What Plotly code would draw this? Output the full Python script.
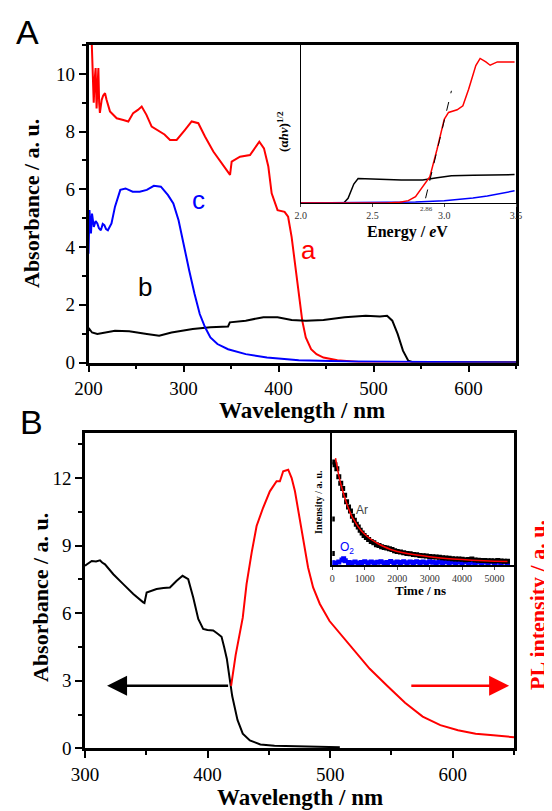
import plotly.graph_objects as go

# ---------------- Panel A main data ----------------
a_wl = [203, 204.5, 205.5, 206.5, 207.5, 208.5, 209.5, 210.4, 211.2, 212, 213.9, 215.5, 217.4, 219, 222.6,
        229.7, 236.6, 241.9, 247, 252, 256, 261, 266.5, 275.3, 280, 285.8, 292.8, 301.6, 308.6, 315.6,
        322.6, 331.4, 340.2, 349, 350.7, 359.5, 370, 375.3, 379.8, 384.7, 389.3, 392.8, 399, 406.4,
        410.1, 413.8, 417.6, 421.3, 425, 428.7, 434.3, 440, 447.3, 462, 484.5, 520, 650]
a_abs = [11.5, 10.0, 9.0, 9.8, 10.2, 8.8, 9.6, 10.2, 9.0, 8.65, 9.1, 9.25, 9.33, 9.1, 8.7,
         8.46, 8.4, 8.35, 8.64, 8.75, 8.87, 8.58, 8.17, 8.0, 7.9, 7.71, 7.71, 8.06, 8.35, 8.29,
         7.83, 7.31, 6.9, 6.5, 6.96, 7.13, 7.19, 7.42, 7.65, 7.42, 6.79, 5.86, 5.28, 5.22,
         5.05, 4.35, 3.31, 2.26, 1.45, 0.87, 0.46, 0.29, 0.17, 0.08, 0.02, 0.0, 0.0]

b_wl = [200, 201, 203.7, 209.3, 227.9, 242.8, 261.4, 274.4, 287.4, 309.7, 328.3, 346.9, 348.8, 365.5,
        384.1, 399, 413.8, 428.7, 447.3, 469.6, 491.9, 506.8, 514.3, 519.8, 525.4, 531, 536.6, 542.1, 650]
b_abs = [1.1, 1.16, 1.04, 0.99, 1.1, 1.08, 0.99, 0.93, 1.04, 1.16, 1.22, 1.25, 1.39, 1.45,
         1.57, 1.57, 1.47, 1.45, 1.47, 1.57, 1.62, 1.59, 1.62, 1.45, 0.99, 0.41, 0.06, 0.0, 0.0]

c_wl = [200, 201, 202.6, 203.7, 205.6, 207.5, 209.3, 211, 213, 215, 216.7, 218.5, 220.4, 224.2, 227.9,
        233.5, 239, 246.5, 253.9, 261.4, 268.8, 276.2, 283.7, 289.3, 294.8, 300.4, 306, 311.6,
        317.1, 322.7, 328.3, 335.7, 346.9, 365.5, 387.8, 421.3, 477, 650]
c_abs = [3.77, 5.28, 4.47, 5.16, 4.7, 4.9, 4.82, 4.65, 4.58, 4.8, 4.76, 4.62, 4.58, 4.82, 5.4,
         5.98, 6.03, 5.92, 5.92, 5.98, 6.12, 6.09, 5.8, 5.51, 4.93, 4.0, 3.19, 2.38,
         1.68, 1.22, 0.87, 0.64, 0.46, 0.29, 0.17, 0.08, 0.035, 0.0]

# ---------------- Panel A inset (Tauc plot) ----------------
ea_red_e = [2.0, 2.6, 2.69, 2.75, 2.8, 2.85, 2.9, 2.95, 3.0, 3.03, 3.09, 3.13, 3.17, 3.22, 3.25, 3.29, 3.32, 3.37, 3.49]
ea_red_y = [0.0, 0.0, 0.005, 0.015, 0.04, 0.1, 0.167, 0.34, 0.53, 0.573, 0.59, 0.615, 0.72, 0.87, 0.915, 0.893, 0.872, 0.893, 0.893]
ea_blk_e = [2.0, 2.3, 2.33, 2.37, 2.4, 2.5, 2.6, 2.7, 2.85, 2.95, 3.05, 3.2, 3.35, 3.49]
ea_blk_y = [0.0, 0.0, 0.03, 0.12, 0.155, 0.15, 0.148, 0.145, 0.145, 0.16, 0.173, 0.175, 0.178, 0.18]
ea_blu_e = [2.0, 2.5, 2.8, 3.0, 3.1, 3.2, 3.3, 3.4, 3.49]
ea_blu_y = [0.0, 0.002, 0.006, 0.015, 0.022, 0.032, 0.045, 0.06, 0.077]
tangent_e = [2.87, 3.05]
tangent_y = [0.03, 0.71]

# ---------------- Panel B main data ----------------
abs_wl = [300, 300.8, 305.5, 309, 312.2, 314, 316.3, 323.1, 331.2, 339.4, 347.5, 348.5, 350.3, 358.4, 364,
          369.3, 374.8, 379.6, 384.2, 388.3, 392.4, 396.4, 399.9, 404.6, 408, 411.4, 413.5, 415.7, 418,
          420.1, 424.4, 428.7, 434.5, 443.1, 454.6, 474.8, 507.9]
abs_val = [8.1, 8.14, 8.32, 8.3, 8.35, 8.25, 8.17, 7.73, 7.29, 6.85, 6.48, 6.45, 6.92, 7.07, 7.12,
           7.14, 7.44, 7.66, 7.51, 6.7, 5.74, 5.3, 5.25, 5.23, 5.1, 4.95, 4.5, 3.98, 3.1,
           2.32, 1.26, 0.65, 0.35, 0.17, 0.11, 0.08, 0.05]

pl_wl = [419.2, 422.9, 428.7, 431.8, 436, 440, 445.3, 450.8, 456.3, 459, 460.5, 461.7, 465.8, 468.6,
         471.3, 474, 476, 478, 482, 486.1, 491.6, 499.5, 506.4, 517.9, 532.3, 546.7, 561.1, 575.5,
         589.9, 604.3, 618.7, 633.1, 648.9, 650]
pl_val = [2.77, 4.14, 5.8, 7.29, 8.7, 9.87, 10.68, 11.41, 11.86, 11.86, 12.1, 12.3, 12.37, 12.0,
          11.41, 10.53, 9.9, 9.4, 8.03, 7.14, 6.41, 5.65, 5.2, 4.44, 3.53, 2.77, 2.02, 1.41,
          1.03, 0.8, 0.65, 0.58, 0.5, 0.49]

# ---------------- Panel B inset (decay) ----------------
ar_t = [0, 0, 30, 80, 140, 200, 260, 320, 380, 440, 500, 560, 620, 680, 740, 800, 860, 920, 980, 1050,
        1120, 1200, 1280, 1360, 1440, 1520, 1600, 1680, 1760, 1840, 1920, 2000, 2100, 2200, 2300, 2400,
        2500, 2600, 2700, 2800, 2900, 3000, 3100, 3200, 3300, 3400, 3500, 3600, 3700, 3800, 3900, 4000,
        4100, 4200, 4300, 4400, 4500, 4600, 4700, 4800, 4900, 5000, 5100, 5200, 5300, 5400]
ar_y = [0.09, 0.35, 0.78, 0.76, 0.73, 0.67, 0.62, 0.58, 0.53, 0.48, 0.44, 0.41, 0.37, 0.34, 0.31, 0.29,
        0.265, 0.245, 0.225, 0.21, 0.195, 0.18, 0.17, 0.155, 0.15, 0.14, 0.135, 0.13, 0.125, 0.12, 0.11,
        0.105, 0.1, 0.095, 0.09, 0.087, 0.082, 0.08, 0.075, 0.072, 0.07, 0.066, 0.065, 0.062, 0.06,
        0.058, 0.055, 0.053, 0.05, 0.048, 0.047, 0.045, 0.042, 0.044, 0.048, 0.04, 0.038, 0.037, 0.036,
        0.035, 0.034, 0.033, 0.036, 0.032, 0.03, 0.03]
fit_t = [100, 200, 300, 400, 500, 600, 700, 800, 900, 1000, 1200, 1400, 1600, 1800, 2000, 2300, 2600,
         3000, 3500, 4000, 4500, 5000, 5400]
fit_y = [0.81, 0.68, 0.58, 0.5, 0.43, 0.37, 0.33, 0.29, 0.26, 0.235, 0.195, 0.165, 0.14, 0.12, 0.105,
         0.09, 0.078, 0.065, 0.052, 0.043, 0.036, 0.031, 0.028]
o2_t = [0, 100, 200, 300, 350, 400, 500, 600, 700, 800, 900, 1000, 1100, 1200, 1300, 1400, 1500, 1600,
        1700, 1800, 1900, 2000, 2100, 2200, 2300, 2400, 2500, 2600, 2700, 2800, 2900, 3000, 3100, 3200,
        3300, 3400, 3500, 3600, 3700, 3800, 3900, 4000, 4100, 4200, 4300, 4400, 4500, 4600, 4700, 4800,
        4900, 5000, 5100, 5200, 5300, 5400]
o2_y = [0.02, 0.018, 0.025, 0.04, 0.05, 0.035, 0.022, 0.02, 0.025, 0.018, 0.022, 0.026, 0.02, 0.024,
        0.019, 0.023, 0.027, 0.02, 0.022, 0.028, 0.02, 0.024, 0.021, 0.026, 0.02, 0.025, 0.022, 0.027,
        0.021, 0.024, 0.02, 0.026, 0.023, 0.02, 0.025, 0.022, 0.027, 0.021, 0.024, 0.02, 0.025, 0.022,
        0.026, 0.02, 0.023, 0.021, 0.025, 0.02, 0.024, 0.022, 0.026, 0.02, 0.023, 0.021, 0.025, 0.02]

# page body margin of 8 px: the figure starts at (8, 8) on the page
OFF = 8
W, H = 552 - OFF, 811 - OFF
def px(x): return (x - OFF) / W
def py(y): return 1 - (y - OFF) / H

SERIF = "Liberation Serif, Times New Roman, serif"
SANS = "Liberation Sans, Arial, sans-serif"
RED = "#ff0000"
BLUE = "#0000ff"

fig = go.Figure()
# Panel A
fig.add_trace(go.Scatter(x=a_wl, y=a_abs, mode="lines", line=dict(color=RED, width=2), xaxis="x", yaxis="y"))
fig.add_trace(go.Scatter(x=b_wl, y=b_abs, mode="lines", line=dict(color="black", width=2), xaxis="x", yaxis="y"))
fig.add_trace(go.Scatter(x=c_wl, y=c_abs, mode="lines", line=dict(color=BLUE, width=2), xaxis="x", yaxis="y"))
# Inset A
fig.add_trace(go.Scatter(x=ea_blk_e, y=ea_blk_y, mode="lines", line=dict(color="black", width=1.5), xaxis="x2", yaxis="y2"))
fig.add_trace(go.Scatter(x=ea_blu_e, y=ea_blu_y, mode="lines", line=dict(color=BLUE, width=1.5), xaxis="x2", yaxis="y2"))
fig.add_trace(go.Scatter(x=ea_red_e, y=ea_red_y, mode="lines", line=dict(color=RED, width=1.5), xaxis="x2", yaxis="y2"))
fig.add_trace(go.Scatter(x=tangent_e, y=tangent_y, mode="lines", line=dict(color="black", width=1, dash="dash"), xaxis="x2", yaxis="y2"))
# Panel B
fig.add_trace(go.Scatter(x=abs_wl, y=abs_val, mode="lines", line=dict(color="black", width=2), xaxis="x3", yaxis="y3"))
fig.add_trace(go.Scatter(x=pl_wl, y=pl_val, mode="lines", line=dict(color=RED, width=2), xaxis="x3", yaxis="y3"))
# Inset B
fig.add_trace(go.Scatter(x=o2_t, y=o2_y, mode="markers", marker=dict(color=BLUE, size=5, symbol="square"), xaxis="x4", yaxis="y4"))
fig.add_trace(go.Scatter(x=ar_t, y=ar_y, mode="markers", marker=dict(color="black", size=5, symbol="square"), xaxis="x4", yaxis="y4"))
fig.add_trace(go.Scatter(x=fit_t, y=fit_y, mode="lines", line=dict(color=RED, width=1.5, shape="spline"), xaxis="x4", yaxis="y4"))

tickfont = dict(family=SERIF, size=19, color="black")
main_ax = dict(showline=True, linecolor="black", linewidth=2.5, mirror=True, ticks="outside",
               ticklen=7, tickwidth=2, tickcolor="black", showgrid=False, zeroline=False,
               tickfont=tickfont, automargin=False)

fig.update_layout(
    template="none",
    font=dict(family=SERIF),
    width=W, height=H, margin=dict(l=0, r=0, t=0, b=0, pad=0, autoexpand=False), showlegend=False,
    paper_bgcolor="white", plot_bgcolor="white",
    xaxis=dict(main_ax, domain=[px(88.5), px(516)], anchor="y", range=[200, 650], tickvals=[200, 300, 400, 500, 600],
               minor=dict(ticks="outside", ticklen=4, tickwidth=2, tickcolor="black", dtick=50)),
    yaxis=dict(main_ax, domain=[py(362.5), py(45)], anchor="x", range=[0, 11], tickvals=[0, 2, 4, 6, 8, 10],
               minor=dict(ticks="outside", ticklen=4, tickwidth=2, tickcolor="black", dtick=1)),
    xaxis2=dict(domain=[px(300.7), px(516)], anchor="y2", range=[2.0, 3.5], tickvals=[2.0, 2.5, 3.0, 3.5],
                ticktext=["2.0", "2.5", "3.0", "3.5"], showline=True, linecolor="black", linewidth=1,
                ticks="outside", ticklen=3, tickwidth=1, showgrid=False, zeroline=False, automargin=False,
                tickfont=dict(family=SERIF, size=10, color="#333")),
    yaxis2=dict(domain=[py(203), py(45)], anchor="x2", range=[0, 1.0], showticklabels=False, showline=True,
                linecolor="black", linewidth=1, ticks="", showgrid=False, zeroline=False, automargin=False),
    xaxis3=dict(main_ax, domain=[px(85), px(514)], anchor="y3", range=[300, 650], tickvals=[300, 400, 500, 600],
                minor=dict(ticks="outside", ticklen=4, tickwidth=2, tickcolor="black", dtick=50)),
    yaxis3=dict(main_ax, domain=[py(748.3), py(433)], anchor="x3", range=[0, 14], tickvals=[0, 3, 6, 9, 12],
                minor=dict(ticks="outside", ticklen=4, tickwidth=2, tickcolor="black", dtick=1.5)),
    xaxis4=dict(domain=[px(332.3), px(514)], anchor="y4", range=[0, 5600], tickvals=[0, 1000, 2000, 3000, 4000, 5000],
                showline=True, linecolor="black", linewidth=1.5, ticks="outside", ticklen=3, tickwidth=1,
                showgrid=False, zeroline=False, automargin=False, tickfont=dict(family=SERIF, size=10, color="#333")),
    yaxis4=dict(domain=[py(565.3), py(433)], anchor="x4", range=[0, 1.0], showticklabels=False, showline=True,
                linecolor="black", linewidth=1.5, ticks="", showgrid=False, zeroline=False, automargin=False),
)

def ann(text, x, y, size, color="black", family=SERIF, angle=0, **kw):
    fig.add_annotation(text=text, x=x, y=y, xref="paper", yref="paper", showarrow=False,
                       font=dict(family=family, size=size, color=color), textangle=angle,
                       xanchor="center", yanchor="middle", **kw)

ann("A", px(27), py(32), 34, family=SANS)
ann("B", px(31), py(422), 34, family=SANS)
ann("<b>Absorbance / a. u.</b>", px(32), py(204), 22, angle=-90)
ann("<b>Wavelength / nm</b>", px(302), py(410), 23)
ann("<b>Absorbance / a. u.</b>", px(40), py(598), 22, angle=-90)
ann("<b>Wavelength / nm</b>", px(300), py(797), 23)
ann("<b>PL intensity / a. u.</b>", px(537), py(605), 22, color=RED, angle=-90)
ann("a", px(308), py(250), 26, color=RED, family=SANS)
ann("b", px(145), py(287), 26, color="black", family=SANS)
ann("c", px(198), py(200), 26, color=BLUE, family=SANS)
ann("<b>(α<i>hν</i>)<sup>1/2</sup></b>", px(283), py(132), 13, angle=-90)
ann("<b>Energy / <i>e</i>V</b>", px(407), py(232), 16)
ann("2.86", px(426.7), py(209), 7, color="#333")
ann("<b>Intensity / a. u.</b>", px(318), py(502), 10, angle=-90)
ann("<b>Time / ns</b>", px(420), py(590), 13)

fig.add_annotation(text="Ar", x=911, y=0.42, xref="x4", yref="y4", showarrow=False,
                   font=dict(family=SANS, size=12, color="#444"))
fig.add_annotation(text="O<sub>2</sub>", x=445, y=0.13, xref="x4", yref="y4", showarrow=False,
                   font=dict(family=SANS, size=12, color=BLUE))

# arrows in panel B
fig.add_annotation(x=318, y=2.78, ax=418, ay=2.78, xref="x3", yref="y3", axref="x3", ayref="y3",
                   text="", showarrow=True, arrowhead=2, arrowsize=1.6, arrowwidth=2.5, arrowcolor="black")
fig.add_annotation(x=646, y=2.78, ax=565, ay=2.78, xref="x3", yref="y3", axref="x3", ayref="y3",
                   text="", showarrow=True, arrowhead=2, arrowsize=1.6, arrowwidth=2.5, arrowcolor=RED)

fig.write_html("out.html")
